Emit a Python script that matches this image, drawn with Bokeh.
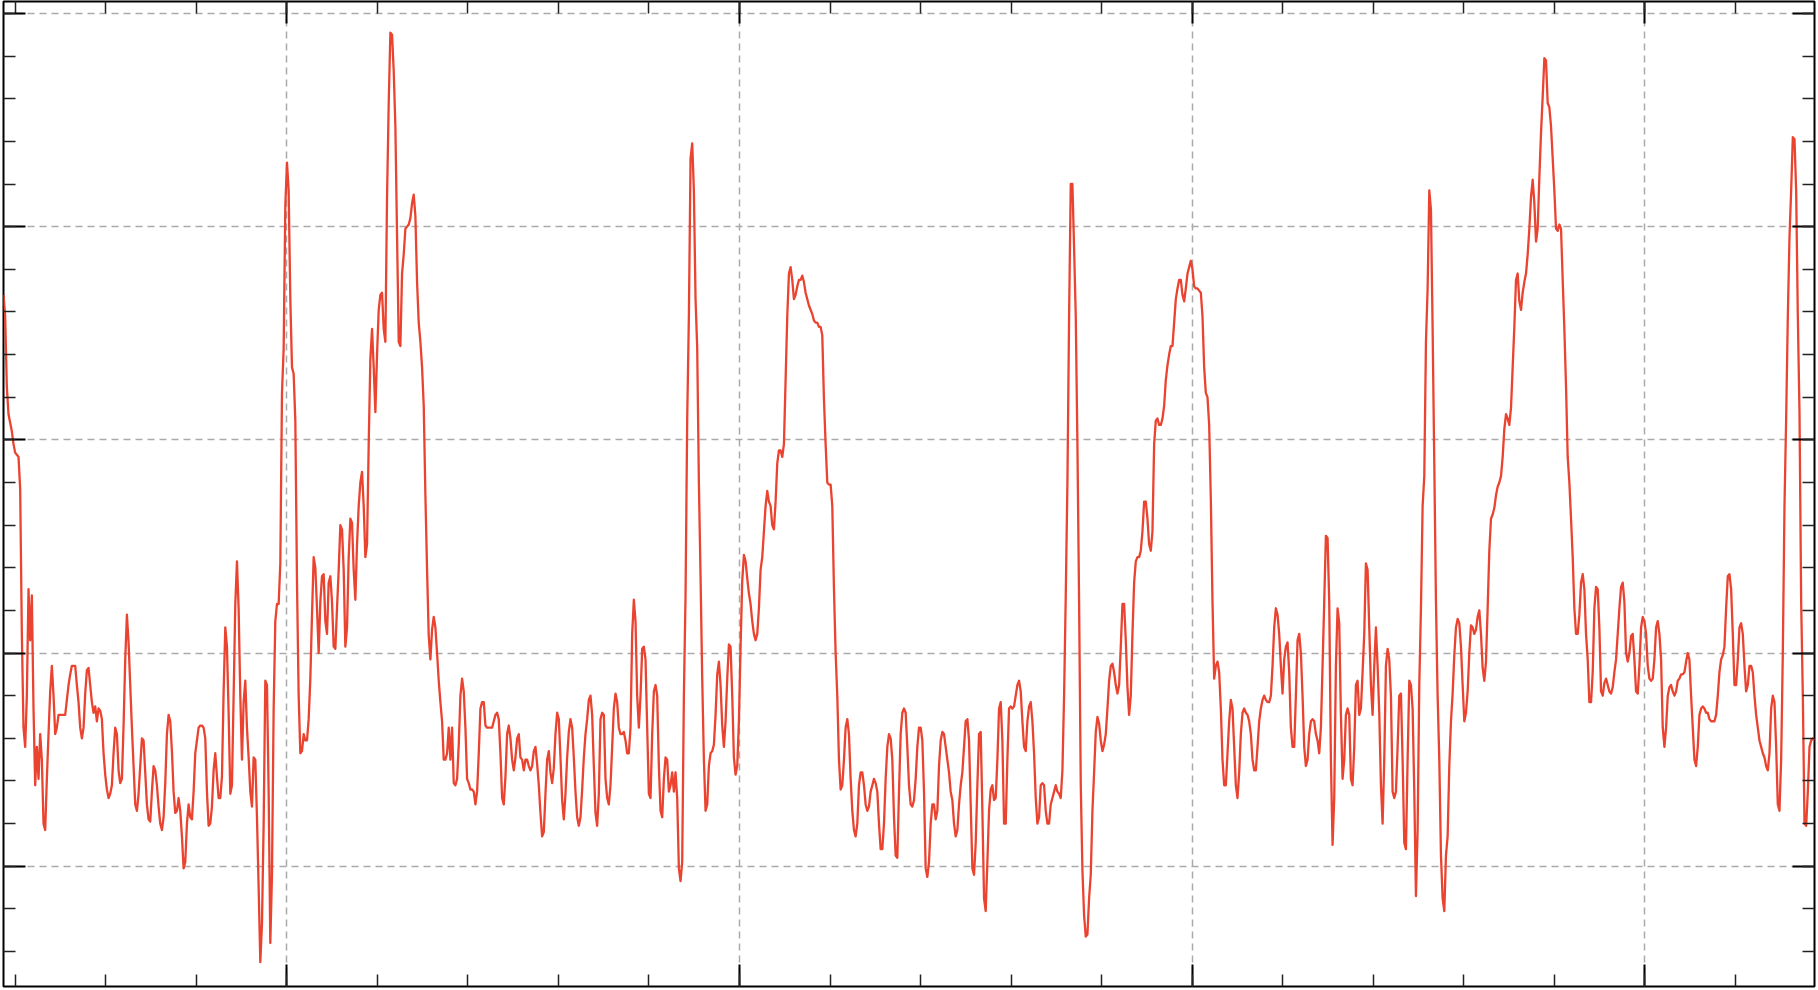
import numpy as np
from bokeh.plotting import figure
from bokeh.models import Range1d, FixedTicker, LinearAxis
from bokeh.embed import file_html
from bokeh.resources import INLINE

# time axis of the uniformly sampled signal
t_start, t_end = 18.72, 218.72

signal = [
    268, 258, 225, 212, 208, 204, 198, 194, 193, 192,
    177, 109, 65, 56, 80, 130, 106, 127, 74, 38,
    56, 41, 62, 50, 20, 17, 41, 62, 82, 94,
    80, 62, 65, 71, 71, 71, 71, 71, 78, 85,
    90, 94, 94, 94, 85, 77, 65, 60, 65, 81,
    92, 93, 85, 77, 72, 75, 68, 74, 73, 69,
    53, 43, 36, 32, 34, 38, 53, 65, 62, 45,
    39, 41, 66, 97, 118, 105, 85, 65, 47, 29,
    26, 34, 47, 60, 59, 44, 29, 22, 21, 35,
    47, 45, 38, 28, 20, 17, 23, 39, 62, 71,
    68, 54, 35, 25, 26, 32, 26, 14, -1, 2,
    20, 29, 23, 22, 35, 53, 59, 65,
    # segment 2
    66, 66, 65, 60, 35, 19, 20, 28, 45, 53,
    42, 32, 32, 42, 82, 112, 103, 72, 34, 38,
    80, 123, 143, 121, 80, 50, 77, 87, 65, 51,
    35, 28, 51, 50, 23, -10, -45, -27, 20, 87,
    85, 35, -36, -4, 74, 115, 123, 123, 142, 222,
    243, 310, 330, 317, 266, 234, 231, 209, 133, 80,
    53, 54, 62, 59, 59, 69, 88, 118, 145, 140,
    121, 100, 124, 136, 137, 115, 109, 133, 136, 124,
    103, 102, 121, 139, 160, 158, 139, 103, 112, 145,
    163, 161, 139, 125, 151, 169, 180, 185, 169, 145,
    151, 198, 238, 252, 234, 213, 240, 261, 268, 269,
    252, 246, 314, 358, 391, 390, 373, 347, 296, 246,
    # segment 3
    244, 278, 287, 299, 300, 301, 304, 311, 315, 305,
    274, 255, 246, 234, 216, 174, 139, 108, 97, 111,
    117, 112, 100, 87, 77, 68, 50, 50, 53, 65,
    50, 65, 39, 38, 41, 57, 80, 88, 82, 65,
    41, 39, 36, 36, 35, 29, 35, 53, 74, 77,
    77, 66, 65, 65, 65, 65, 68, 71, 72, 69,
    53, 32, 29, 42, 62, 66, 60, 50, 45, 51,
    60, 62, 51, 50, 45, 50, 50, 47, 45, 47,
    54, 56, 48, 38, 25, 14, 16, 34, 50, 54,
    44, 39, 46, 62, 72, 69, 51, 31, 22, 34,
    51, 63, 69, 65, 51, 35, 23, 19, 23, 36,
    51, 62, 69, 78, 80, 71, 47, 25, 19, 34,
    # segment 4
    69, 72, 71, 41, 32, 29, 38, 56, 74, 81,
    77, 65, 62, 62, 63, 59, 53, 53, 65, 109,
    125, 115, 80, 65, 80, 102, 103, 97, 65, 34,
    32, 62, 82, 85, 80, 47, 26, 23, 41, 51,
    50, 35, 38, 44, 35, 44, 32, -1, -7, 2,
    80, 127, 210, 258, 332, 339, 317, 266, 243, 180,
    136, 88, 50, 26, 29, 47, 53, 54, 57, 71,
    90, 96, 85, 66, 56, 68, 88, 104, 103, 80,
    51, 43, 47, 68, 103, 134, 146, 143, 135, 128,
    123, 115, 109, 106, 109, 121, 139, 145, 157, 169,
    176, 171, 169, 160, 158, 171, 189, 195, 195, 192,
    198, 228, 258, 278, 281, 275, 266, 268, 272, 275,
    # segment 5
    275, 277, 274, 269, 266, 263, 261, 259, 256, 255,
    255, 253, 253, 249, 219, 198, 180, 179, 179, 169,
    130, 100, 80, 50, 36, 38, 50, 65, 69, 62,
    41, 26, 17, 14, 20, 38, 44, 44, 38, 29,
    26, 28, 35, 38, 41, 39, 35, 20, 8, 8,
    20, 41, 56, 62, 60, 50, 23, 5, 4, 35,
    62, 72, 74, 72, 56, 38, 29, 28, 31, 41,
    56, 65, 65, 59, 35, -1, -5, 2, 20, 29,
    29, 22, 26, 47, 59, 63, 62, 56, 50, 44,
    35, 31, 20, 14, 17, 29, 38, 44, 56, 68,
    69, 59, 29, -1, -4, 11, 38, 62, 63, 26,
    -15, -21, 2, 26, 36, 38, 31, 32, 50, 74,
    # segment 6
    77, 59, 20, 20, 50, 74, 75, 74, 75, 80,
    85, 87, 82, 68, 56, 54, 68, 75, 77, 68,
    53, 32, 20, 23, 38, 39, 38, 26, 20, 20,
    29, 32, 35, 38, 35, 34, 32, 45, 80, 127,
    180, 258, 320, 320, 290, 258, 198, 124, 38, -2,
    -23, -33, -32, -15, -4, 26, 44, 63, 70, 67,
    59, 54, 57, 62, 74, 87, 94, 95, 91, 85,
    81, 85, 103, 123, 123, 106, 84, 71, 80, 109,
    133, 143, 145, 145, 148, 157, 171, 171, 163, 151,
    148, 157, 198, 209, 210, 207, 207, 210, 216, 228,
    235, 240, 244, 244, 255, 266, 271, 275, 275, 268,
    265, 271, 278, 281, 284, 280, 272, 271, 271, 270,
    # segment 7
    269, 258, 234, 222, 220, 207, 172, 124, 88, 94,
    96, 91, 74, 50, 38, 38, 53, 68, 78, 74,
    56, 38, 32, 44, 62, 72, 74, 72, 71, 68,
    62, 50, 45, 45, 56, 68, 74, 78, 80, 78,
    77, 77, 80, 94, 112, 121, 118, 109, 94, 81,
    97, 103, 105, 91, 65, 56, 56, 80, 106, 109,
    100, 80, 56, 47, 50, 62, 68, 69, 68, 62,
    59, 53, 65, 94, 124, 155, 154, 124, 50, 10,
    32, 94, 121, 114, 71, 41, 50, 71, 74, 71,
    41, 38, 56, 85, 87, 71, 74, 91, 109, 142,
    139, 112, 85, 71, 94, 112, 94, 72, 38, 20,
    50, 94, 102, 97, 80, 35, 32, 35, 56, 80,
    # segment 8
    81, 50, 11, 8, 50, 87, 85, 74, 35, -14,
    17, 85, 121, 169, 183, 246, 271, 317, 308, 252,
    189, 124, 80, 50, 5, -15, -21, 5, 14, 47,
    68, 81, 99, 112, 116, 114, 103, 85, 68, 72,
    82, 100, 113, 112, 109, 111, 117, 120, 109, 93,
    87, 96, 121, 148, 163, 165, 168, 174, 178, 180,
    183, 192, 205, 212, 210, 207, 215, 234, 253, 275,
    278, 265, 261, 269, 274, 278, 287, 299, 314, 322,
    311, 293, 299, 323, 344, 361, 379, 378, 358, 356,
    347, 332, 317, 299, 298, 301, 299, 275, 252, 225,
    192, 180, 163, 145, 121, 109, 109, 118, 133, 137,
    130, 109, 97, 77, 77, 91, 121, 131, 130, 112,
    # segment 9
    82, 80, 86, 88, 85, 82, 81, 84, 91, 97,
    109, 121, 131, 133, 124, 100, 96, 100, 108, 109,
    97, 82, 81, 94, 112, 117, 115, 109, 94, 88,
    87, 88, 97, 112, 115, 109, 97, 65, 56, 65,
    80, 84, 85, 82, 80, 82, 87, 88, 90, 90,
    91, 96, 100, 97, 80, 65, 50, 47, 56, 71,
    74, 75, 74, 72, 72, 69, 68, 68, 68, 71,
    80, 91, 97, 99, 103, 121, 136, 137, 130, 109,
    85, 85, 97, 112, 114, 109, 94, 82, 85, 94,
    94, 91, 80, 71, 65, 59, 56, 53, 51, 47,
    45, 53, 74, 80, 77, 56, 29, 26, 50, 100,
    169, 210, 258, 295, 317, 342, 341, 317, 258, 213,
    124, 80, 20, 19, 35, 56, 59, 60, 59,
]

x_major = [50, 100, 150, 200]
x_minor = list(range(20, 220, 10))
y_major = [0, 100, 200, 300, 400]
y_minor = list(range(-40, 420, 20))
y_low, y_high = -56.4, 405.6

t = np.linspace(t_start, t_end, len(signal))

p = figure(
    frame_width=1811, frame_height=985,
    x_range=Range1d(t_start, t_end), y_range=Range1d(y_low, y_high),
    output_backend="svg", toolbar_location=None,
    min_border_left=2, min_border_right=2, min_border_top=1, min_border_bottom=2,
    background_fill_color="white", border_fill_color="white",
)
p.styles = {"position": "absolute", "left": "1px", "top": "0px"}
p.outline_line_color = "black"
p.outline_line_width = 2

xt = FixedTicker(ticks=x_major, minor_ticks=x_minor)
yt = FixedTicker(ticks=y_major, minor_ticks=y_minor)

p.add_layout(LinearAxis(), "above")
p.add_layout(LinearAxis(), "right")

for ax in p.axis:
    ax.axis_line_color = None
    ax.major_label_text_font_size = "0px"
    ax.major_label_text_color = None
    ax.major_label_standoff = 0
    ax.major_tick_in = 22
    ax.major_tick_out = 0
    ax.minor_tick_in = 12
    ax.minor_tick_out = 0
    ax.major_tick_line_color = "black"
    ax.major_tick_line_width = 2
    ax.minor_tick_line_color = "#222222"
    ax.minor_tick_line_width = 1.5

for ax in p.xaxis:
    ax.ticker = xt
for ax in p.yaxis:
    ax.ticker = yt

p.xgrid.ticker = xt
p.ygrid.ticker = yt
for g in (p.xgrid, p.ygrid):
    g.grid_line_color = "#aaaaaa"
    g.grid_line_dash = "7 5"
    g.grid_line_width = 1.5

p.line(t, signal, line_color="#ea4330", line_width=2.3, line_join="round")

open("out.html", "w").write(file_html(p, INLINE))
